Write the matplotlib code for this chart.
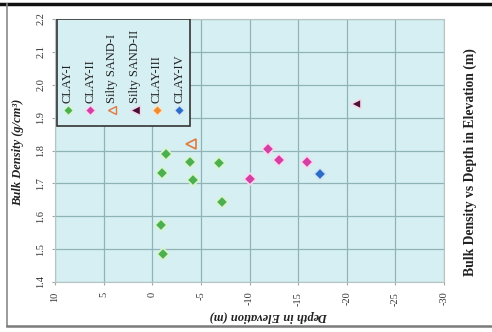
import matplotlib
matplotlib.use("Agg")
import numpy as np
import matplotlib.pyplot as plt
from matplotlib.lines import Line2D
from matplotlib.patches import Rectangle

plt.rcParams['font.family'] = ['Liberation Serif', 'DejaVu Serif']

# depth in elevation (m) vs bulk density (g/cm3) for each layer
clay1_depth = [-1.4, -3.9, -6.9, -1.0, -4.2, -7.2, -0.9, -1.1]
clay1_density = [1.790, 1.764, 1.762, 1.732, 1.710, 1.644, 1.572, 1.485]
clay2_depth = [-11.9, -13.0, -15.9, -10.0]
clay2_density = [1.804, 1.772, 1.764, 1.714]
sand1_depth = [-4.0]
sand1_density = [1.821]
sand2_depth = [-21.0]
sand2_density = [1.940]
clay3_depth = []
clay3_density = []
clay4_depth = [-17.2]
clay4_density = [1.728]

labels = ["CLAY-I", "CLAY-II", "Silty SAND-I", "Silty SAND-II", "CLAY-III", "CLAY-IV"]
depths = [clay1_depth, clay2_depth, sand1_depth, sand2_depth, clay3_depth, clay4_depth]
densities = [clay1_density, clay2_density, sand1_density, sand2_density, clay3_density, clay4_density]

x_ticks = [10, 5, 0, -5, -10, -15, -20, -25, -30]
y_ticks = [1.4, 1.5, 1.6, 1.7, 1.8, 1.9, 2.0, 2.1, 2.2]

# marker, size, face, edge for each series
styles = [
    ("D", 6, "#4cb050", "#d8f5d0"),
    ("D", 6, "#d43fa4", "#f8d8ee"),
    ("<", 7, "none", "#e07a40"),
    ("<", 7.5, "#4a0f35", "#f2d8e6"),
    ("D", 6, "#f08c30", "#fbe2c8"),
    ("D", 6, "#2a6ec8", "#d4e4f8"),
]

fig = plt.figure(figsize=(4.92, 3.32), dpi=100)
ax = fig.add_axes([55 / 492, 1 - 282 / 332, 389 / 492, 263 / 332])
ax.set_facecolor("#d6eff2")

for d, rho, (m, ms, fc, ec) in zip(depths, densities, styles):
    if not d:
        continue
    ax.plot(d, rho, linestyle="none", marker=m, markersize=ms,
            markerfacecolor=fc, markeredgecolor=ec,
            markeredgewidth=1.2, zorder=3)

ax.set_xlim(10, -30)
ax.set_ylim(1.4, 2.2)
ax.set_xticks(x_ticks)
ax.set_xticklabels([str(v) for v in x_ticks], rotation=90)
ax.set_yticks(y_ticks)
ax.set_yticklabels(["%.1f" % v for v in y_ticks], rotation=90, va="center")
ax.grid(True, color="#8fb4b8", linewidth=0.9)
ax.set_axisbelow(True)
ax.tick_params(axis="both", labelsize=7.5, length=2, pad=5, color="#a0a8a8",
               labelcolor="#333333")
for s in ax.spines.values():
    s.set_color("#b8c4c4")
    s.set_linewidth(0.8)

ax.set_ylabel("Bulk Density (g/cm³)", fontsize=9, fontstyle="italic",
              fontweight="bold", rotation=90, color="#222222")
ax.yaxis.set_label_coords(-0.08, 0.494)

fig.text(269 / 492, 1 - 316 / 332, "Depth in Elevation (m)", rotation=180,
         ha="center", va="center", fontsize=9, fontstyle="italic",
         fontweight="bold", color="#222222")
fig.text(470 / 492, 1 - 162 / 332, "Bulk Density vs Depth in Elevation (m)",
         rotation=90, ha="center", va="center", fontsize=9.8,
         fontweight="bold", color="#222222")

# legend laid out as a row of upright columns
ax.add_patch(Rectangle((2 / 389, (282 - 126) / 263), 133 / 389, 107 / 263,
                       transform=ax.transAxes, facecolor="#d6eff2",
                       edgecolor="#333333", linewidth=1.2, zorder=4))
for i, (lab, (m, ms, fc, ec)) in enumerate(zip(labels, styles)):
    lx = (67.7 + i * 22.3 - 55) / 389
    ax.plot([lx], [(282 - 110) / 263], transform=ax.transAxes, linestyle="none",
            marker=m, markersize=ms - 1, markerfacecolor=fc, markeredgecolor=ec,
            markeredgewidth=1.0, zorder=5, clip_on=False)
    ax.text(lx, (282 - 103) / 263, lab, transform=ax.transAxes, rotation=90,
            ha="center", va="bottom", fontsize=9, color="#222222", zorder=5)

# frame around the figure
fig.add_artist(Line2D([0, 1], [1 - 4 / 332, 1 - 4 / 332], color="#111111", linewidth=2.5))
fig.add_artist(Line2D([7 / 492, 7 / 492], [1 - 4 / 332, 1 - 326 / 332], color="#8a8a8a", linewidth=1.2))
fig.add_artist(Line2D([7 / 492, 1], [1 - 326 / 332, 1 - 326 / 332], color="#7a7a7a", linewidth=1.8))

fig.savefig("out.png", dpi=100)
